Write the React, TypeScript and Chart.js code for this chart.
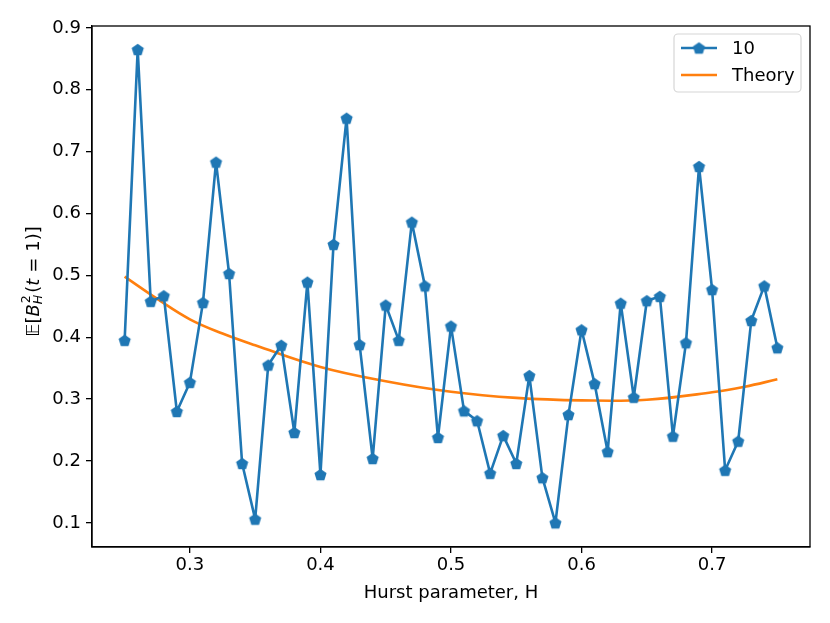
import { useEffect, useRef } from 'react';
import { Chart, registerables } from 'chart.js';

Chart.register(...registerables);

// Hurst parameter grid for the simulated estimates
const hurst = [
  0.25, 0.26, 0.27, 0.28, 0.29, 0.3, 0.31, 0.32, 0.33, 0.34, 0.35, 0.36, 0.37,
  0.38, 0.39, 0.4, 0.41, 0.42, 0.43, 0.44, 0.45, 0.46, 0.47, 0.48, 0.49, 0.5,
  0.51, 0.52, 0.53, 0.54, 0.55, 0.56, 0.57, 0.58, 0.59, 0.6, 0.61, 0.62, 0.63,
  0.64, 0.65, 0.66, 0.67, 0.68, 0.69, 0.7, 0.71, 0.72, 0.73, 0.74, 0.75,
];
const sim10 = [
  0.395, 0.865, 0.458, 0.467, 0.28, 0.327, 0.456, 0.683, 0.503, 0.196, 0.106,
  0.355, 0.387, 0.246, 0.489, 0.178, 0.55, 0.754, 0.388, 0.204, 0.452, 0.395,
  0.586, 0.483, 0.238, 0.418, 0.281, 0.265, 0.18, 0.241, 0.196, 0.338, 0.173,
  0.1, 0.275, 0.412, 0.325, 0.215, 0.455, 0.303, 0.459, 0.466, 0.24, 0.391,
  0.676, 0.477, 0.185, 0.232, 0.427, 0.483, 0.383,
];

const theoryH = [0.25, 0.275, 0.3, 0.325, 0.35, 0.4, 0.45, 0.5, 0.55, 0.6, 0.65, 0.7, 0.725, 0.75];
const theory = [0.498, 0.462, 0.429, 0.406, 0.387, 0.352, 0.329, 0.312, 0.302, 0.298, 0.299, 0.311, 0.32, 0.332];

const xTicks = [0.3, 0.4, 0.5, 0.6, 0.7];
const yTicks = [0.1, 0.2, 0.3, 0.4, 0.5, 0.6, 0.7, 0.8, 0.9];

const BLUE = '#1f77b4';
const ORANGE = '#ff7f0e';
const FONT = '"DejaVu Sans", sans-serif';
const FS = 18;

function pentagon(r: number) {
  const c = document.createElement('canvas');
  const s = Math.ceil(r * 2 + 2);
  c.width = s;
  c.height = s;
  const ctx = c.getContext('2d')!;
  ctx.fillStyle = BLUE;
  ctx.beginPath();
  for (let i = 0; i < 5; i++) {
    const a = -Math.PI / 2 + (i * 2 * Math.PI) / 5;
    const px = s / 2 + r * Math.cos(a);
    const py = s / 2 + 0.6 + r * Math.sin(a);
    if (i === 0) ctx.moveTo(px, py);
    else ctx.lineTo(px, py);
  }
  ctx.closePath();
  ctx.fill();
  return c;
}

export default function App() {
  const canvasRef = useRef<HTMLCanvasElement | null>(null);

  useEffect(() => {
    if (!canvasRef.current) return;
    document.body.style.margin = '0';
    const marker = pentagon(6.4);

    const decor = {
      id: 'decor',
      afterDraw(chart: Chart) {
        const { ctx, chartArea: a } = chart;
        ctx.save();
        // axes frame
        ctx.strokeStyle = '#000';
        ctx.lineWidth = 1.3;
        ctx.strokeRect(a.left, a.top, a.right - a.left, a.bottom - a.top);

        // legend
        const lx = 674, ly = 34, lw = 127, lh = 58;
        ctx.beginPath();
        ctx.roundRect(lx, ly, lw, lh, 4);
        ctx.fillStyle = 'rgba(255,255,255,0.8)';
        ctx.fill();
        ctx.strokeStyle = '#d6d6d6';
        ctx.lineWidth = 1.2;
        ctx.stroke();
        ctx.lineWidth = 2.6;
        ctx.strokeStyle = BLUE;
        ctx.beginPath();
        ctx.moveTo(681, 48);
        ctx.lineTo(717, 48);
        ctx.stroke();
        ctx.drawImage(marker, 699 - marker.width / 2, 48 - marker.height / 2);
        ctx.strokeStyle = ORANGE;
        ctx.beginPath();
        ctx.moveTo(681, 75);
        ctx.lineTo(717, 75);
        ctx.stroke();
        ctx.fillStyle = '#000';
        ctx.font = `${FS}px ${FONT}`;
        ctx.textBaseline = 'middle';
        ctx.textAlign = 'left';
        ctx.fillText('10', 732, 49);
        ctx.fillText('Theory', 732, 76);

        // y-axis label: E[B_H^2(t = 1)]
        const reg = `${FS}px ${FONT}`;
        const ita = `oblique ${FS}px ${FONT}`;
        const small = `12.6px ${FONT}`;
        const smallIt = `oblique 12.6px ${FONT}`;
        type Seg = { t: string; f: string; dy?: number; sub?: { t: string; f: string; dy: number } };
        const segs: Seg[] = [
          { t: '\u{1D53C}', f: reg },
          { t: '[', f: reg },
          { t: 'B', f: ita },
          { t: '2', f: small, dy: -7, sub: { t: 'H', f: smallIt, dy: 5 } },
          { t: '(', f: reg },
          { t: 't', f: ita },
          { t: '\u2004=\u20041)]', f: reg },
        ];
        const widths = segs.map((s) => {
          ctx.font = s.f;
          let w = ctx.measureText(s.t).width;
          if (s.sub) {
            ctx.font = s.sub.f;
            w = Math.max(w, ctx.measureText(s.sub.t).width);
          }
          return w + (s.t === 'B' ? 1 : 0) + (s.sub ? 1 : 0);
        });
        const total = widths.reduce((p, w) => p + w, 0);
        ctx.translate(34, (a.top + a.bottom) / 2 - 5);
        ctx.rotate(-Math.PI / 2);
        let x = -total / 2;
        segs.forEach((s, i) => {
          ctx.font = s.f;
          ctx.fillText(s.t, x, s.dy ?? 0);
          if (s.sub) {
            ctx.font = s.sub.f;
            ctx.fillText(s.sub.t, x - 1, s.sub.dy);
          }
          x += widths[i];
        });
        ctx.restore();
      },
    };

    const chart = new Chart(canvasRef.current, {
      type: 'line',
      data: {
        datasets: [
          {
            label: '10',
            data: hurst.map((h, i) => ({ x: h, y: sim10[i] })),
            borderColor: BLUE,
            backgroundColor: BLUE,
            borderWidth: 2.6,
            borderJoinStyle: 'round',
            borderCapStyle: 'round',
            pointStyle: marker,
            pointRadius: 6,
            tension: 0,
          },
          {
            label: 'Theory',
            data: theoryH.map((h, i) => ({ x: h, y: theory[i] })),
            borderColor: ORANGE,
            borderWidth: 2.6,
            borderCapStyle: 'butt',
            pointRadius: 0,
            tension: 0.4,
          },
        ],
      },
      options: {
        animation: false,
        responsive: true,
        maintainAspectRatio: false,
        layout: { padding: { left: 0, right: 20, top: 26, bottom: 0 } },
        plugins: { legend: { display: false }, tooltip: { enabled: false } },
        scales: {
          x: {
            type: 'linear',
            min: 0.225,
            max: 0.775,
            afterBuildTicks: (s) => {
              s.ticks = xTicks.map((v) => ({ value: v }));
            },
            afterFit: (s) => {
              s.height = 76;
            },
            ticks: {
              color: '#000',
              font: { family: FONT, size: FS },
              padding: 2,
              callback: (v) => Number(v).toFixed(1),
            },
            grid: { drawOnChartArea: false, color: '#000', tickLength: 6, lineWidth: 1.3 },
            border: { color: '#000', width: 1.3 },
            title: {
              display: true,
              text: 'Hurst parameter, H',
              color: '#000',
              font: { family: FONT, size: FS },
              padding: { top: 4, bottom: 19 },
            },
          },
          y: {
            min: 0.061,
            max: 0.903,
            afterBuildTicks: (s) => {
              s.ticks = yTicks.map((v) => ({ value: v }));
            },
            afterFit: (s) => {
              s.width = 92;
            },
            ticks: {
              color: '#000',
              font: { family: FONT, size: FS },
              padding: 5,
              callback: (v) => Number(v).toFixed(1),
            },
            grid: { drawOnChartArea: false, color: '#000', tickLength: 6, lineWidth: 1.3 },
            border: { color: '#000', width: 1.3 },
          },
        },
      },
      plugins: [decor],
    });

    return () => chart.destroy();
  }, []);

  return (
    <div style={{ width: 830, height: 623, position: 'relative', background: '#fff' }}>
      <canvas ref={canvasRef} aria-label="Hurst parameter estimates" />
    </div>
  );
}
